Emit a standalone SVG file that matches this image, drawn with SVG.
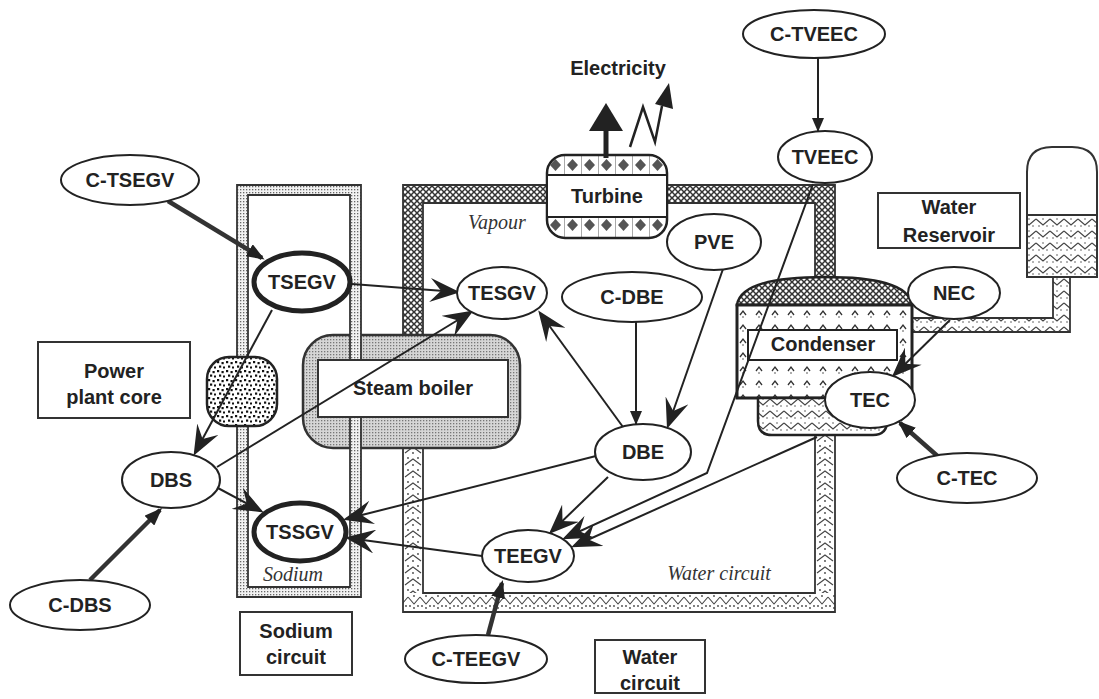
<svg xmlns="http://www.w3.org/2000/svg" width="1099" height="699" viewBox="0 0 1099 699">
<style>
.lbl{font-family:"Liberation Sans",Arial,sans-serif;font-weight:bold;font-size:20px;fill:#222;text-anchor:middle}
.it{font-family:"Liberation Serif","Times New Roman",serif;font-style:italic;font-size:20px;fill:#333;text-anchor:middle}
.node{fill:#fff;stroke:#222;stroke-width:2}
.thick{stroke-width:5}
.box{fill:#fff;stroke:#333;stroke-width:2}
.pipe{stroke:#333;stroke-width:1.8}
.c{fill:none;stroke:#222;stroke-width:2}
.ct{fill:none;stroke:#333;stroke-width:4.5}
</style>
<defs>
<pattern id="dots" width="3" height="3" patternUnits="userSpaceOnUse"><rect width="3" height="3" fill="#f2f2f2"/><rect width="1.3" height="1.3" fill="#666"/></pattern>
<pattern id="boil" width="3" height="3" patternUnits="userSpaceOnUse"><rect width="3" height="3" fill="#d6d6d6"/><rect width="1.3" height="1.3" fill="#777"/></pattern>
<pattern id="hatch" width="6" height="6" patternUnits="userSpaceOnUse"><rect width="6" height="6" fill="#fff"/><path d="M0,0 L6,6 M6,0 L0,6" stroke="#333" stroke-width="1.5"/></pattern>
<pattern id="wv" x="403" width="20" height="12" patternUnits="userSpaceOnUse"><rect width="20" height="12" fill="#fff"/><path d="M2,9 L10,3 L18,9" fill="none" stroke="#444" stroke-width="1.1"/><circle cx="10" cy="9" r="0.9" fill="#444"/><circle cx="5" cy="2" r="0.9" fill="#444"/><circle cx="15" cy="2" r="0.9" fill="#444"/></pattern>
<pattern id="wv2" x="815" width="20" height="12" patternUnits="userSpaceOnUse"><rect width="20" height="12" fill="#fff"/><path d="M2,9 L10,3 L18,9" fill="none" stroke="#444" stroke-width="1.1"/><circle cx="10" cy="9" r="0.9" fill="#444"/><circle cx="5" cy="2" r="0.9" fill="#444"/><circle cx="15" cy="2" r="0.9" fill="#444"/></pattern>
<pattern id="wh" y="593" width="12" height="19" patternUnits="userSpaceOnUse"><rect width="12" height="19" fill="#fff"/><path d="M0,4 L6,11 L12,4" fill="none" stroke="#444" stroke-width="1.1"/><circle cx="6" cy="15" r="0.9" fill="#444"/><circle cx="2" cy="13" r="0.9" fill="#444"/><circle cx="10" cy="13" r="0.9" fill="#444"/><circle cx="6" cy="3" r="0.9" fill="#444"/></pattern>
<pattern id="zig" width="14" height="12" patternUnits="userSpaceOnUse"><rect width="14" height="12" fill="#fff"/><path d="M0,3 L7,9 L14,3" fill="none" stroke="#444" stroke-width="1.2"/><circle cx="7" cy="3" r="0.8" fill="#555"/><circle cx="3" cy="10" r="0.8" fill="#555"/><circle cx="11" cy="10" r="0.8" fill="#555"/></pattern>
<pattern id="cond" width="16" height="14" patternUnits="userSpaceOnUse"><rect width="16" height="14" fill="#fff"/><path d="M4,7 L7,3 L10,7" fill="none" stroke="#333" stroke-width="1.3"/><circle cx="7" cy="9" r="0.8" fill="#444"/></pattern>
<pattern id="core" width="9" height="9" patternUnits="userSpaceOnUse"><rect width="9" height="9" fill="#fff"/><rect x="1" y="1" width="2.2" height="2.2" fill="#111"/><rect x="5.5" y="2" width="2.2" height="2.2" fill="#111"/><rect x="3" y="5.5" width="2.2" height="2.2" fill="#111"/><rect x="7" y="6.5" width="2" height="2" fill="#111"/></pattern>
<pattern id="diam" x="547" y="155" width="17" height="20" patternUnits="userSpaceOnUse"><rect width="17" height="20" fill="#fff"/><path d="M8.5,4 L14,10 L8.5,16 L3,10 Z" fill="#555"/><path d="M0,0 V20" stroke="#555" stroke-width="1"/></pattern>
<marker id="barb" markerUnits="userSpaceOnUse" viewBox="0 0 30 24" refX="27" refY="12" markerWidth="30" markerHeight="24" orient="auto"><path d="M30,12 L0,0 L11,12 L0,24 Z" fill="#222"/></marker>
<marker id="tri" markerUnits="userSpaceOnUse" viewBox="0 0 18 14" refX="15" refY="7" markerWidth="18" markerHeight="14" orient="auto"><path d="M0,0 L18,7 L0,14 Z" fill="#222"/></marker>
<marker id="arr" markerUnits="userSpaceOnUse" viewBox="0 0 14 12" refX="13" refY="6" markerWidth="14" markerHeight="12" orient="auto"><path d="M0,0 L14,6 L0,12 Z" fill="#222"/></marker>
</defs>
<rect width="1099" height="699" fill="#fff"/>

<g id="plant">
<path d="M403,335 L403,185 L835,185 L835,280 L815,280 L815,203 L423,203 L423,335 Z" fill="url(#hatch)" class="pipe"/>
<rect x="403" y="448" width="20" height="145" fill="url(#wv)"/>
<rect x="815" y="435" width="20" height="158" fill="url(#wv2)"/>
<rect x="403" y="593" width="432" height="19" fill="url(#wh)"/>
<path d="M403,448 L403,612 L835,612 L835,435 M815,435 L815,593 L423,593 L423,448" fill="none" class="pipe"/>
<path d="M912,318 L1053,318 L1053,277 L1070,277 L1070,332 L912,332 Z" fill="url(#zig)" class="pipe"/>
<path d="M1027,277 L1027,172 Q1027,147 1052,147 L1072,147 Q1097,147 1097,172 L1097,277 Z" fill="#fff" stroke="#333" stroke-width="2"/>
<rect x="1027" y="215" width="70" height="62" fill="url(#zig)" stroke="#333" stroke-width="2"/>
<rect x="303" y="335" width="217" height="113" rx="30" fill="url(#boil)" stroke="#333" stroke-width="2.5"/>
<path d="M237,185 L361,185 L361,597 L237,597 Z M248,195 L248,587 L350,587 L350,195 Z" fill="url(#dots)" fill-rule="evenodd" class="pipe"/>
<rect x="318" y="360" width="190" height="57" fill="#fff" stroke="#333" stroke-width="2"/>
<rect x="207" y="357" width="70" height="69" rx="22" fill="url(#core)" stroke="#222" stroke-width="2.5"/>
<rect x="547" y="155" width="120" height="83" rx="18" fill="url(#diam)" stroke="#222" stroke-width="2.5"/>
<rect x="547" y="175" width="120" height="42" fill="#fff" stroke="#222" stroke-width="2"/>
<path d="M737,305 C740,284 775,277 825,277 C875,277 909,284 912,305 Z" fill="url(#hatch)" stroke="#222" stroke-width="2.5"/>
<rect x="737" y="305" width="175" height="93" fill="url(#cond)" stroke="#222" stroke-width="3"/>
<rect x="748" y="330" width="149" height="30" fill="#fff" stroke="#222" stroke-width="2"/>
<path d="M758,398 L887,398 L887,421 Q887,435 873,435 L772,435 Q758,435 758,421 Z" fill="url(#zig)" stroke="#222" stroke-width="2.5"/>
<rect x="603.5" y="126" width="5" height="32" fill="#222"/>
<polygon points="589,131 606,103 623,131" fill="#222"/>
<polyline points="630,147 643,107 655,142 662,106" fill="none" stroke="#222" stroke-width="2.5"/>
<polygon points="655,104 669,83 673,109" fill="#222"/>
<text class="lbl" x="618" y="75">Electricity</text>
<text class="lbl" x="607" y="203">Turbine</text>
<text class="lbl" x="413" y="395">Steam boiler</text>
<text class="lbl" x="823" y="351">Condenser</text>
<text class="it" x="497" y="229">Vapour</text>
<text class="it" x="293" y="581">Sodium</text>
<text class="it" x="719" y="580">Water circuit</text>
</g>

<g id="box-core"><rect class="box" x="38" y="342" width="152" height="76"/><text class="lbl" x="114" y="378">Power</text><text class="lbl" x="114" y="404">plant core</text></g>
<g id="box-sodium"><rect class="box" x="240" y="612" width="112" height="63"/><text class="lbl" x="296" y="638">Sodium</text><text class="lbl" x="296" y="664">circuit</text></g>
<g id="box-water"><rect class="box" x="595" y="640" width="110" height="53"/><text class="lbl" x="650" y="664">Water</text><text class="lbl" x="650" y="690">circuit</text></g>
<g id="box-reservoir"><rect class="box" x="878" y="193" width="142" height="55"/><text class="lbl" x="949" y="214">Water</text><text class="lbl" x="949" y="242">Reservoir</text></g>

<g id="connectors">
<path class="ct" d="M168,201 L262,258" marker-end="url(#tri)"/>
<path class="c" d="M352,284 L457,292" marker-end="url(#barb)"/>
<path class="c" d="M272,310 L195,453" marker-end="url(#barb)"/>
<path class="c" d="M217,467 L471,312" marker-end="url(#barb)"/>
<path class="c" d="M216,487 L261,511" marker-end="url(#barb)"/>
<path class="c" d="M596,456 L346,519" marker-end="url(#barb)"/>
<path class="c" d="M482,556 L348,538" marker-end="url(#barb)"/>
<path class="ct" d="M90,580 L160,510" marker-end="url(#tri)"/>
<path class="c" d="M623,427 L540,313" marker-end="url(#barb)"/>
<path class="c" d="M636,322 L636,424" marker-end="url(#arr)"/>
<path class="c" d="M723,269 L668,426" marker-end="url(#barb)"/>
<path class="c" d="M608,477 L551,532" marker-end="url(#barb)"/>
<path class="c" d="M813,184 L707,473 L565,538" marker-end="url(#barb)"/>
<path class="c" d="M817,437 L574,546" marker-end="url(#barb)"/>
<path class="c" d="M950,320 L894,375" marker-end="url(#barb)"/>
<path class="ct" d="M942,460 L900,423" marker-end="url(#tri)"/>
<path class="c" d="M818,58 L818,131" marker-end="url(#arr)"/>
<path class="ct" d="M488,635 L502,583" marker-end="url(#tri)"/>
</g>

<g id="C-TSEGV"><ellipse class="node" cx="130" cy="180" rx="69" ry="25"/><text class="lbl" x="130" y="187">C-TSEGV</text></g>
<g id="TSEGV"><ellipse class="node thick" cx="302" cy="282" rx="48" ry="29"/><text class="lbl" x="302" y="289">TSEGV</text></g>
<g id="TESGV"><ellipse class="node" cx="502" cy="293" rx="45" ry="26"/><text class="lbl" x="502" y="300">TESGV</text></g>
<g id="C-DBE"><ellipse class="node" cx="632" cy="297" rx="70" ry="25"/><text class="lbl" x="632" y="304">C-DBE</text></g>
<g id="PVE"><ellipse class="node" cx="714" cy="242" rx="47" ry="28"/><text class="lbl" x="714" y="249">PVE</text></g>
<g id="C-TVEEC"><ellipse class="node" cx="814" cy="34" rx="71" ry="24"/><text class="lbl" x="814" y="41">C-TVEEC</text></g>
<g id="TVEEC"><ellipse class="node" cx="825" cy="157" rx="47" ry="26"/><text class="lbl" x="825" y="164">TVEEC</text></g>
<g id="NEC"><ellipse class="node" cx="954" cy="293" rx="46" ry="26"/><text class="lbl" x="954" y="300">NEC</text></g>
<g id="TEC"><ellipse class="node" cx="870" cy="400" rx="45" ry="28"/><text class="lbl" x="870" y="407">TEC</text></g>
<g id="C-TEC"><ellipse class="node" cx="967" cy="478" rx="70" ry="25"/><text class="lbl" x="967" y="485">C-TEC</text></g>
<g id="DBE"><ellipse class="node" cx="643" cy="452" rx="48" ry="28"/><text class="lbl" x="643" y="459">DBE</text></g>
<g id="TEEGV"><ellipse class="node" cx="528" cy="556" rx="46" ry="26"/><text class="lbl" x="528" y="563">TEEGV</text></g>
<g id="C-TEEGV"><ellipse class="node" cx="476" cy="659" rx="71" ry="24"/><text class="lbl" x="476" y="666">C-TEEGV</text></g>
<g id="TSSGV"><ellipse class="node thick" cx="300" cy="532" rx="46" ry="29"/><text class="lbl" x="300" y="539">TSSGV</text></g>
<g id="DBS"><ellipse class="node" cx="171" cy="480" rx="49" ry="28"/><text class="lbl" x="171" y="487">DBS</text></g>
<g id="C-DBS"><ellipse class="node" cx="80" cy="605" rx="70" ry="25"/><text class="lbl" x="80" y="612">C-DBS</text></g>
</svg>
